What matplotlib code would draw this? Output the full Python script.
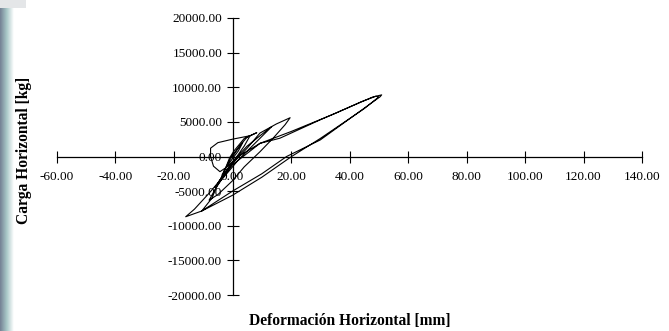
import numpy as np
import matplotlib.pyplot as plt

# hysteresis trace (deformation mm, load kg)
defo = [0, 2, 3.5, 2, 0, -2, -3, -1.5, 0,
        3, 5, 6, 4, 1, -2, -4, -2.5, -1, 0.5,
        4, 8.3, 6, 0, -5, -7.5, -7.5, -6.5, -4.3, -1.5, 1,
        5, 10, 13.4, 11, 6, 2, -3, -6, -4, 0,
        5, 9.4, 15, 19.7, 18, 14, 9.4, 4, 0, -5, -8, -6, -3, 0,
        9.4, 16.2, 30, 44.2, 48, 51, 50.5, 40, 30, 18.5, 10, 0, -10.5, -16,
        -13, -8, -5, -2, 2, 9.4, 20, 35, 44, 49, 50, 45, 30, 20.2, 10, 0, -10.5,
        -7, -5.4, -3, 0]
carga = [0, 1200, 2000, 800, -300, -1500, -2200, -1000, 200,
         1800, 2800, 3000, 1500, -300, -2000, -3200, -1800, -200, 800,
         2600, 3440, 3000, 2500, 2000, 1200, 0, -1400, -2190, -1400, -300,
         1500, 3200, 4300, 3300, 1200, -500, -3000, -4500, -3200, -1000,
         1200, 3390, 4700, 5600, 4600, 2700, 690, -1500, -3500, -5500, -6300, -4800, -2800, -1200,
         1900, 2640, 5300, 7910, 8600, 8900, 8640, 5440, 2390, 0, -2500, -5000, -7870, -8700,
         -7600, -5300, -3800, -2000, 0, 1900, 3600, 6200, 7900, 8700, 8600, 6900, 2600, 0, -3000, -5600, -7870,
         -6000, -4290, -2600, -900]

xticks = [-60, -40, -20, 0, 20, 40, 60, 80, 100, 120, 140]
yticks = [-20000, -15000, -10000, -5000, 0, 5000, 10000, 15000, 20000]

serif = ['Liberation Serif', 'DejaVu Serif']

fig = plt.figure(figsize=(6.69, 3.31), dpi=100)

# grey slide strip on the left
bg = fig.add_axes([0, 0, 14/669, 1])
grad = np.linspace(0.52, 1.0, 50)[None, :]
bg.imshow(grad, cmap='bone', vmin=0, vmax=1, aspect='auto', extent=[0, 1, 0, 1])
bg.axis('off')
top = fig.add_axes([0, 1 - 8/331, 26/669, 8/331])
top.set_facecolor('#e4e6e8')
top.set_xticks([])
top.set_yticks([])
for s in top.spines.values():
    s.set_visible(False)

ax = fig.add_axes([57/669, 36/331, 585/669, 277/331])
ax.plot(defo, carga, color='black', lw=0.8)

ax.set_xlim(-60, 140)
ax.set_ylim(-20000, 20000)
ax.spines['left'].set_position(('data', 0))
ax.spines['bottom'].set_position(('data', 0))
ax.spines['top'].set_visible(False)
ax.spines['right'].set_visible(False)
for s in ('left', 'bottom'):
    ax.spines[s].set_linewidth(0.9)
ax.set_xticks(xticks)
ax.set_yticks(yticks)
ax.set_xticklabels(['%.2f' % v for v in xticks], family=serif, fontsize=9.5)
ax.set_yticklabels(['%.2f' % v for v in yticks], family=serif, fontsize=9.5)
ax.tick_params(axis='x', direction='inout', length=9, width=0.8, pad=6)
ax.tick_params(axis='y', direction='inout', length=9, width=0.8, pad=3)
ax.patch.set_alpha(0)

fig.text(350/669, 1 - 321/331, 'Deformación Horizontal [mm]', ha='center', va='center',
         family=serif, fontweight='bold', fontsize=11.2)
fig.text(24/669, 1 - 150/331, 'Carga Horizontal [kg]', ha='center', va='center',
         rotation=90, family=serif, fontweight='bold', fontsize=11.2)

fig.savefig('out.png', dpi=100)
